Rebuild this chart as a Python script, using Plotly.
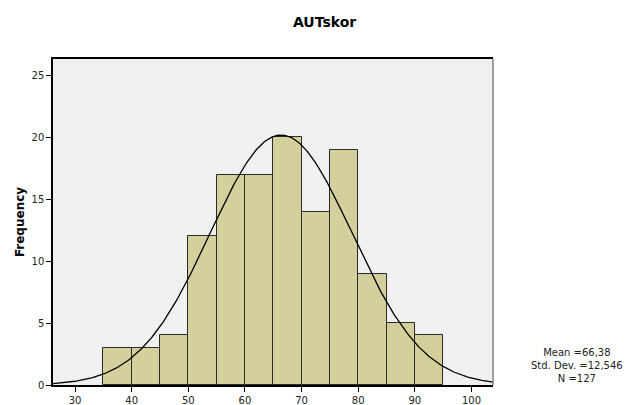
import numpy as np
import plotly.graph_objects as go

bin_left = [35, 40, 45, 50, 55, 60, 65, 70, 75, 80, 85, 90]
counts = [3, 3, 4, 12, 17, 17, 20, 14, 19, 9, 5, 4]
bin_width = 5
mean = 66.38
std = 12.546
n = 127
x_ticks = [30, 40, 50, 60, 70, 80, 90, 100]
y_ticks = [0, 5, 10, 15, 20, 25]
stats_lines = ["Mean =66,38", "Std. Dev. =12,546", "N =127"]

centers = [b + bin_width / 2 for b in bin_left]
xs = np.linspace(26.1, 103.8, 400)
ys = n * bin_width / (std * np.sqrt(2 * np.pi)) * np.exp(-0.5 * ((xs - mean) / std) ** 2)

FONT = "DejaVu Sans, Liberation Sans, Arial, sans-serif"

fig = go.Figure()
fig.add_trace(go.Bar(x=centers, y=counts, width=bin_width,
                     marker=dict(color="#d3d09b", line=dict(color="#2a2a2a", width=1)),
                     showlegend=False, hoverinfo="skip"))
fig.add_trace(go.Scatter(x=xs, y=ys, mode="lines", line=dict(color="black", width=1.3),
                         showlegend=False, hoverinfo="skip"))

fig.update_layout(
    width=629, height=405,
    margin=dict(l=53, r=136, t=59, b=20),
    paper_bgcolor="white", plot_bgcolor="#f0f0f0",
    font=dict(family=FONT, color="#222", size=10),
    title=dict(text="<b>AUTskor</b>", x=0.516, xanchor="center", y=0.945, yanchor="middle",
               font=dict(size=14, color="black")),
    bargap=0,
    xaxis=dict(range=[26.1, 103.8], tickvals=x_ticks, ticks="outside", ticklen=5,
               tickcolor="black", showline=True, linecolor="black", linewidth=1.5,
               mirror=True, showgrid=False, zeroline=False, tickfont=dict(size=10),
               automargin=False),
    yaxis=dict(range=[0, 26.33], tickvals=y_ticks, ticks="outside", ticklen=5,
               tickcolor="black", showline=True, linecolor="black", linewidth=1.5,
               showgrid=False, zeroline=False, tickfont=dict(size=10), automargin=False,
               title=dict(text="<b>Frequency</b>", font=dict(size=12, color="black"), standoff=4)),
    shapes=[dict(type="line", xref="paper", yref="paper", x0=1, x1=1, y0=0, y1=1,
                 line=dict(color="#808080", width=1.5))],
    annotations=[dict(text="<br>".join(stats_lines), xref="paper", yref="paper", x=1.19,
                      y=(385 - 365) / 326.0, xanchor="center", yanchor="middle",
                      showarrow=False, align="center",
                      font=dict(size=10, color="#222"))],
)
fig.write_html("out.html")
